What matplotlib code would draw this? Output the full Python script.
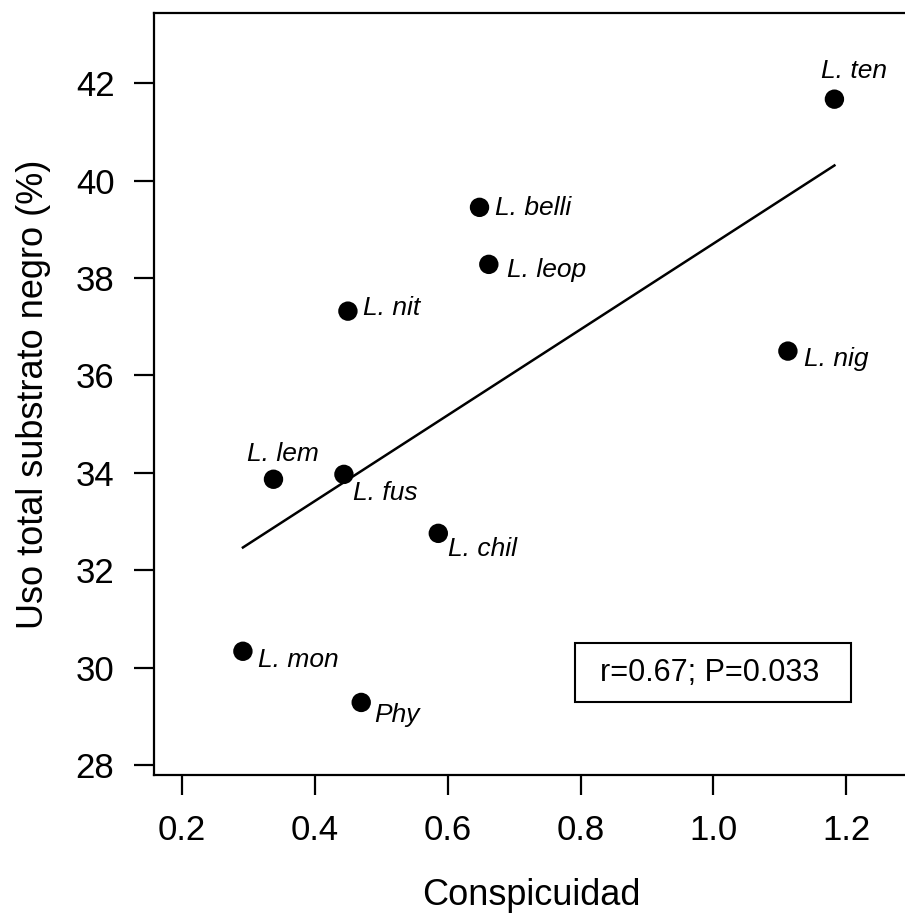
import numpy as np
import matplotlib
matplotlib.use("Agg")
import matplotlib.pyplot as plt
from matplotlib.patches import Rectangle

plt.rcParams['font.family'] = ['Liberation Sans', 'DejaVu Sans']

# Species conspicuity vs. total use of black substrate
species = ["L. ten", "L. belli", "L. leop", "L. nit", "L. nig",
           "L. lem", "L. fus", "L. chil", "L. mon", "Phy"]
conspicuidad = [1.182, 0.648, 0.662, 0.450, 1.112,
                0.338, 0.444, 0.586, 0.292, 0.470]
uso_negro = [41.67, 39.45, 38.28, 37.32, 36.50,
             33.87, 33.97, 32.76, 30.34, 29.29]

x_ticks = [0.2, 0.4, 0.6, 0.8, 1.0, 1.2]
x_ticklabels = ["0.2", "0.4", "0.6", "0.8", "1.0", "1.2"]
y_ticks = [28, 30, 32, 34, 36, 38, 40, 42]

stats_text = "r=0.67; P=0.033"

# label placement (pixels from each point; horizontal alignment)
label_offsets = {
    "L. ten": ((20, 21), "center"),
    "L. belli": ((15, -8), "left"),
    "L. leop": ((18, -13), "left"),
    "L. nit": ((15, -4), "left"),
    "L. nig": ((16, -15), "left"),
    "L. lem": ((-26, 18), "left"),
    "L. fus": ((9, -26), "left"),
    "L. chil": ((10, -23), "left"),
    "L. mon": ((15, -16), "left"),
    "Phy": ((13, -20), "left"),
}

fig = plt.figure(figsize=(9.05, 9.23), dpi=100)
ax = fig.add_axes([0.170, 0.1603, 0.835, 0.8257])

x = np.array(conspicuidad)
y = np.array(uso_negro)

# least-squares line across the observed range
slope, intercept = np.polyfit(x, y, 1)
xl = np.array([x.min(), x.max()])
ax.plot(xl, slope * xl + intercept, color='black', lw=1.8, zorder=2)

ax.scatter(x, y, s=195, color='black', edgecolors='none', zorder=3)

for name, xi, yi in zip(species, x, y):
    (dx, dy), ha = label_offsets[name]
    ax.annotate(name, (xi, yi), xytext=(dx, dy), textcoords='offset pixels',
                ha=ha, va='baseline', fontsize=19, style='italic')

# statistics box
ax.add_patch(Rectangle((0.792, 29.29), 1.2076 - 0.792, 30.50 - 29.29,
                       fill=False, edgecolor='black', lw=1.5, zorder=4))
ax.text(0.995, 29.89, stats_text, ha='center', va='center', fontsize=22)

ax.set_xlim(0.158, 1.295)
ax.set_ylim(27.8, 43.44)
ax.set_xticks(x_ticks)
ax.set_xticklabels(x_ticklabels)
ax.set_yticks(y_ticks)

ax.spines['right'].set_visible(False)
for s in ['left', 'top', 'bottom']:
    ax.spines[s].set_linewidth(1.6)

ax.tick_params(direction='out', length=14.4, width=1.6, labelsize=25, pad=14)

ax.set_xlabel("Conspicuidad", fontsize=26, labelpad=22)
ax.set_ylabel("Uso total substrato negro (%)", fontsize=26, labelpad=18)

fig.savefig("out.png", dpi=100)
